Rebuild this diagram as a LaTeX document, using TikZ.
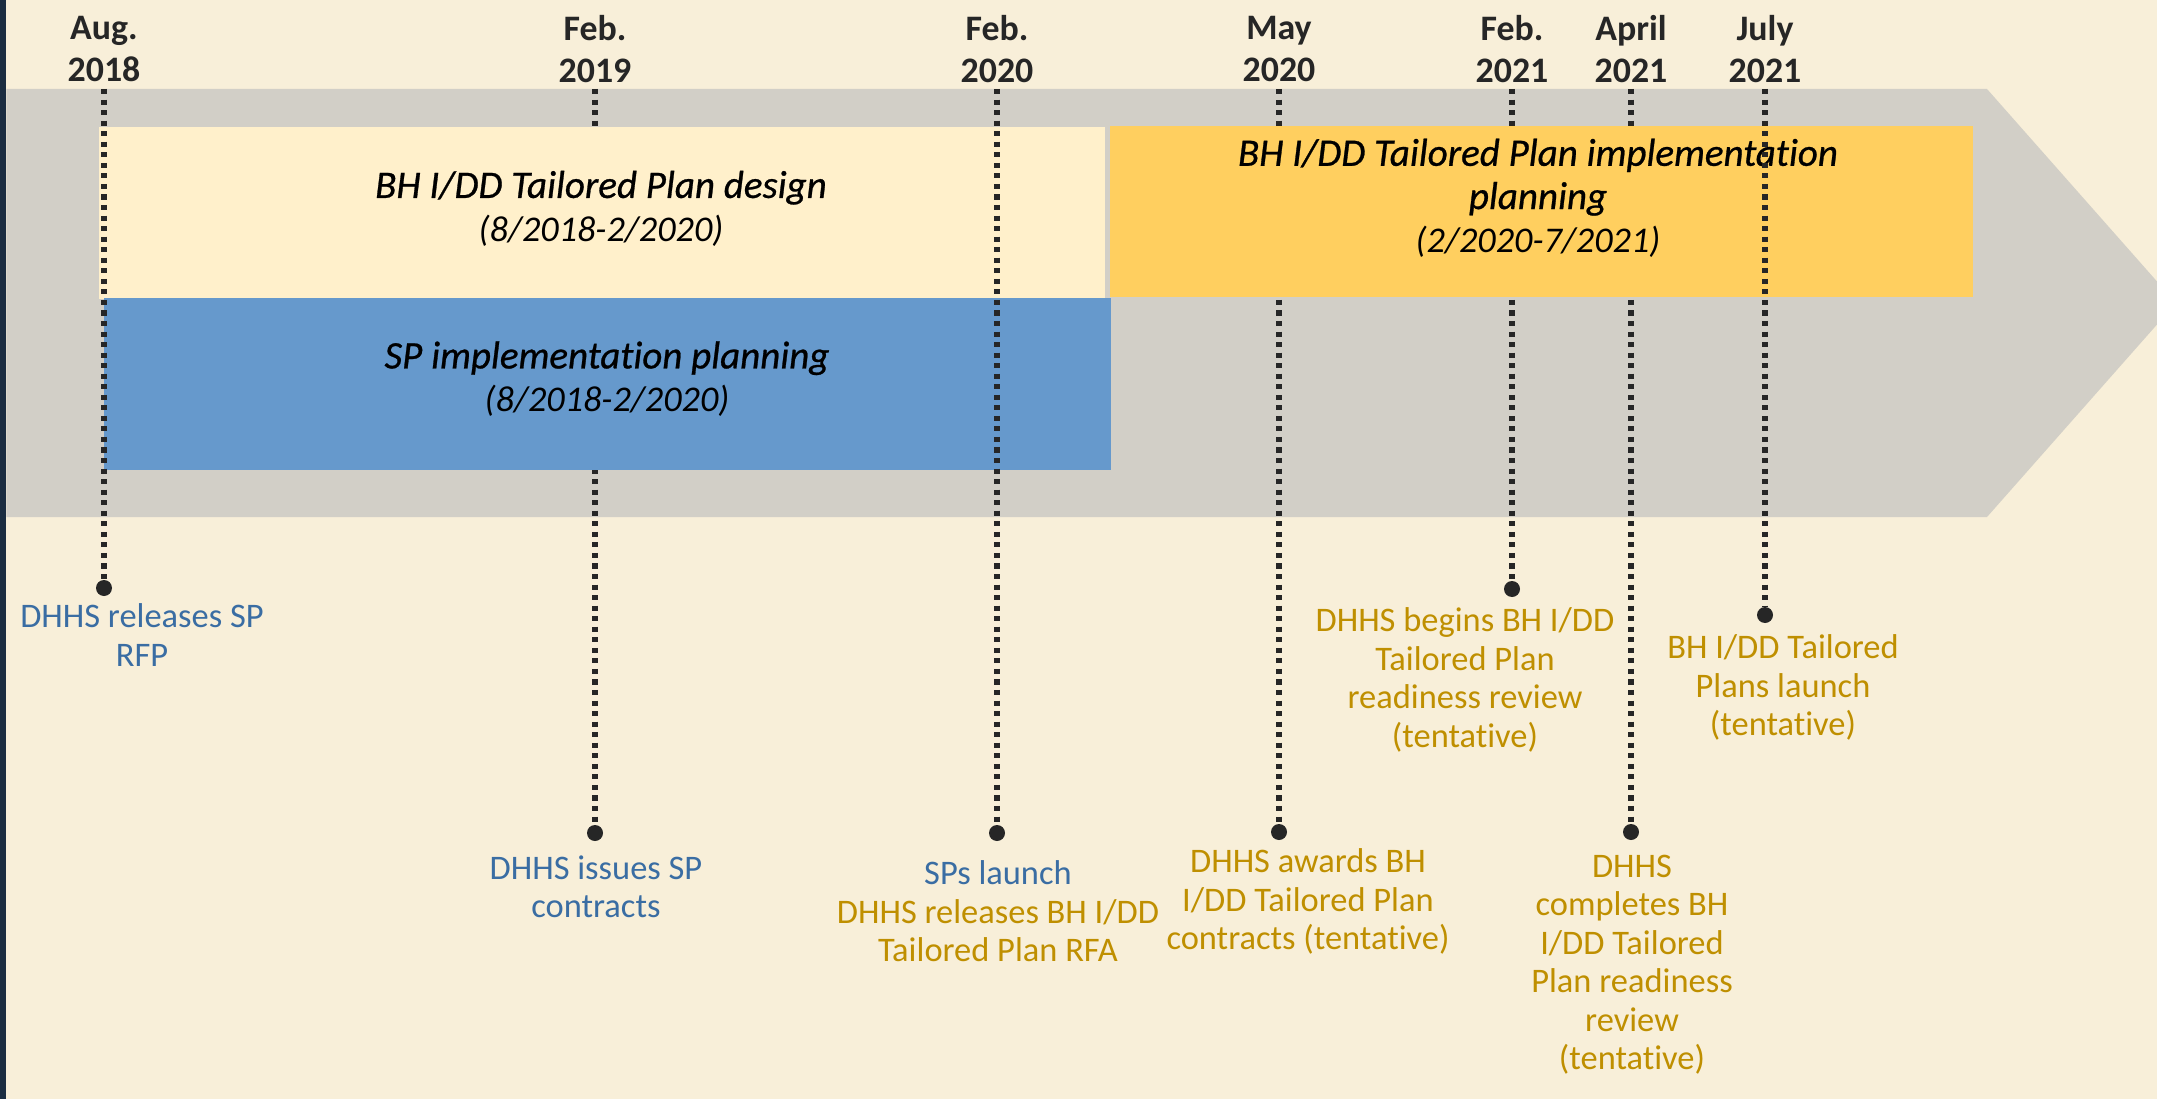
\documentclass[tikz,border=0pt]{standalone}
\usepackage{fontspec}
\setmainfont[RawFeature=-liga]{Carlito}
\newfontfamily\boxfont[FakeBold=0.7,RawFeature=-liga]{Carlito}
\newcommand\spanfont{\rmfamily\itshape\fontsize{10.3}{12.3}\selectfont}
\definecolor{bgcream}{HTML}{F8EFD9}
\definecolor{navy}{HTML}{1B2D41}
\definecolor{band}{HTML}{D2CFC7}
\definecolor{boxcream}{HTML}{FFF0CB}
\definecolor{boxblue}{HTML}{6699CC}
\definecolor{boxgold}{HTML}{FFCF5F}
\definecolor{linedark}{HTML}{262626}
\definecolor{evblue}{HTML}{3A6DA3}
\definecolor{evgold}{HTML}{BF8F00}
\begin{document}
\begin{tikzpicture}[x=0.1mm,y=-0.1mm,line join=round,
    datelbl/.style={font=\bfseries\fontsize{10.2}{12.1}\selectfont,text=linedark,align=center,inner sep=0pt},
    boxtxt/.style={font=\boxfont\itshape\fontsize{11.1}{12.3}\selectfont,align=center,inner sep=0pt},
    evtxt/.style={font=\fontsize{9.8}{10.95}\selectfont,align=center,anchor=north,inner sep=0pt},
    guide/.style={draw=linedark,line width=1.45pt,dash pattern=on 1.45pt off 1.55pt},
    pin/.style={circle,fill=linedark,inner sep=0pt,minimum size=1.6mm}]
    \useasboundingbox (0,0) rectangle (2157,1099);
    \clip (0,0) rectangle (2157,1099);
    \fill[bgcream] (0,0) rectangle (2157,1099);
    \fill[navy] (0,0) rectangle (5.5,1099);
    % gray arrow band
    \fill[band] (6.5,89)--(1987,89)--(2176,303)--(1987,517)--(6.5,517)--cycle;
    % milestones: name/x/month/year/pin y
    \foreach \n/\x/\m/\yr/\py in {aug18/104/Aug./2018/588,feb19/595/Feb./2019/833,
        feb20/997/Feb./2020/833,may20/1279/May/2020/832,feb21/1512/Feb./2021/589,
        apr21/1631/April/2021/832,jul21/1765/July/2021/615}{
        \node[datelbl] (d-\n) at (\x,49) {\m\\\yr};
        \coordinate (t-\n) at (\x,89);
        \node[pin] (p-\n) at (\x,\py) {};
    }
    \foreach \n in {feb19,may20,feb21,apr21}\draw[guide] (t-\n)--(p-\n);
    % bars
    \fill[boxcream] (99,127) rectangle (1105,299);
    \fill[boxblue] (104,298) rectangle (1111,470);
    \fill[boxgold] (1110,126) rectangle (1973,297);
    \node[boxtxt] (tpdesign) at (601,208.5) {BH I/DD Tailored Plan design\\{\spanfont (8/2018-2/2020)}};
    \node[boxtxt] (spplan) at (607,379) {SP implementation planning\\{\spanfont (8/2018-2/2020)}};
    \node[boxtxt] (tpplan) at (1538,198) {BH I/DD Tailored Plan implementation\\planning\\{\spanfont (2/2020-7/2021)}};
    \foreach \n in {aug18,feb20,jul21}\draw[guide] (t-\n)--(p-\n);
    % events
    \node[evtxt,text=evblue] (ev-rfp) at (142,603) {DHHS releases SP\\RFP};
    \node[evtxt,text=evblue] (ev-contracts) at (596,855) {DHHS issues SP\\contracts};
    \node[evtxt,text=evgold] (ev-launch) at (998,860) {\textcolor{evblue}{SPs launch}\\DHHS releases BH I/DD\\Tailored Plan RFA};
    \node[evtxt,text=evgold] (ev-awards) at (1308,848) {DHHS awards BH\\I/DD Tailored Plan\\contracts (tentative)};
    \node[evtxt,text=evgold] (ev-begins) at (1465,607) {DHHS begins BH I/DD\\Tailored Plan\\readiness review\\(tentative)};
    \node[evtxt,text=evgold] (ev-completes) at (1632,854) {DHHS\\completes BH\\I/DD Tailored\\Plan readiness\\review\\(tentative)};
    \node[evtxt,text=evgold] (ev-tplaunch) at (1783,634) {BH I/DD Tailored\\Plans launch\\(tentative)};
\end{tikzpicture}
\end{document}
